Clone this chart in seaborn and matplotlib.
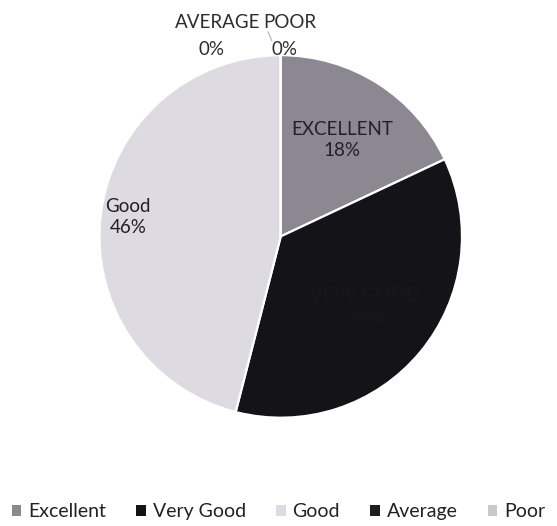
import numpy as np
import matplotlib
matplotlib.use("Agg")
import matplotlib.pyplot as plt
import seaborn as sns

# Survey rating shares (percent)
categories = ["Excellent", "Very Good", "Good", "Average", "Poor"]
slice_labels = ["EXCELLENT", "VERY GOOD", "Good", "AVERAGE", "POOR"]
shares = [18, 36, 46, 0, 0]
colors = ["#8c8892", "#141317", "#dedae2", "#1e1d22", "#cbc7cf"]

sns.set_theme(style="white")
plt.rcParams["font.family"] = ["Lato", "DejaVu Sans"]

fig = plt.figure(figsize=(5.57, 5.26), dpi=100)
ax = fig.add_axes([0.172, 0.199, 0.664, 0.703])

# tiny epsilon so the zero slices still get a wedge
vals = [v if v > 0 else 1e-6 for v in shares]
wedges, _ = ax.pie(vals, colors=colors, startangle=90, counterclock=False,
                   wedgeprops=dict(edgecolor="white", linewidth=1.6))
ax.set_xlim(-1.02, 1.02)
ax.set_ylim(-1.02, 1.02)
ax.set_aspect("equal")
ax.axis("off")

# in-slice labels for the non-zero slices (dark label on the black slice, as in the original)
label_r = {0: 0.63, 1: 0.6, 2: 0.85}
text_col = {0: "#222026", 1: "#18171b", 2: "#222026"}
for i, w in enumerate(wedges):
    if shares[i] == 0:
        continue
    mid = np.deg2rad((w.theta1 + w.theta2) / 2)
    r = label_r[i]
    ax.text(r * np.cos(mid), r * np.sin(mid), f"{slice_labels[i]}\n{shares[i]}%",
            ha="center", va="center", fontsize=13.5, color=text_col[i],
            linespacing=1.25)

# zero slices labelled above the pie
lab_kw = dict(ha="center", va="center", fontsize=13.5, color="#2e2c32", clip_on=False)
ax.text(-0.35, 1.18, slice_labels[3], **lab_kw)
ax.text(-0.38, 1.03, f"{shares[3]}%", **lab_kw)
ax.text(0.05, 1.18, slice_labels[4], **lab_kw)
ax.text(0.02, 1.03, f"{shares[4]}%", **lab_kw)
ax.plot([-0.07, -0.05], [1.13, 1.08], color="#b0adb4", lw=0.8, clip_on=False)

handles = [plt.Rectangle((0, 0), 1, 1, facecolor=c, edgecolor="none") for c in colors]
fig.legend(handles, categories, loc="center", bbox_to_anchor=(0.5, 0.027),
           ncol=5, frameon=False, fontsize=14, handlelength=0.5,
           handleheight=0.5, handletextpad=0.35, columnspacing=1.55,
           labelcolor="#222026")

fig.savefig("out.png", dpi=100, facecolor="white")
